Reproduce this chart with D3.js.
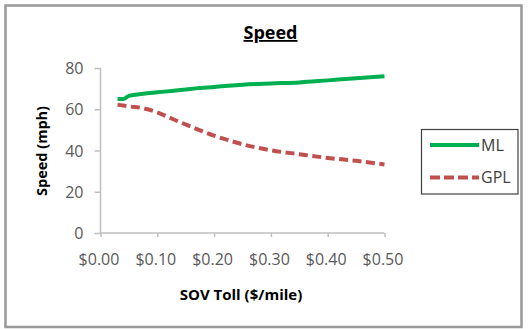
<!DOCTYPE html>
<html>
<head>
<meta charset="utf-8">
<script src="https://cdn.jsdelivr.net/npm/d3@7"></script>
<style>
  html, body { margin: 0; padding: 0; background: #fff; }
  svg { display: block; }
  text { font-family: "Open Sans", "DejaVu Sans", sans-serif; }
</style>
</head>
<body>
<svg id="chart" width="529" height="329"></svg>
<script>
// Toll levels ($ per mile) and the resulting speeds on each facility
const tolls = [0.03, 0.04, 0.05, 0.075, 0.1, 0.125, 0.15, 0.175, 0.2, 0.225, 0.25, 0.3, 0.35, 0.4, 0.45, 0.5];
const mlSpeed = [65.0, 65.0, 66.5, 67.5, 68.2, 68.9, 69.6, 70.3, 70.8, 71.4, 71.9, 72.5, 73.0, 74.0, 75.0, 76.0];
const gplSpeed = [62.2, 61.8, 61.4, 60.5, 58.5, 55.5, 52.6, 49.8, 47.2, 45.0, 43.0, 40.1, 38.2, 36.4, 35.0, 33.2];

const xTicks = [0, 0.1, 0.2, 0.3, 0.4, 0.5];
const yTicks = [0, 20, 40, 60, 80];

const seriesNames = ["ML", "GPL"];
const seriesColors = ["#00B050", "#C0504D"];

const svg = d3.select("#chart");

// chart frame
svg.append("rect")
  .attr("x", 5.5).attr("y", 5.5)
  .attr("width", 516).attr("height", 321.5)
  .attr("fill", "#fff")
  .attr("stroke", "#999").attr("stroke-width", 2.5);

const x = d3.scaleLinear().domain([0, 0.5]).range([100.5, 384.5]);
const y = d3.scaleLinear().domain([0, 80]).range([233, 68]);

// title
svg.append("text")
  .attr("x", 270.5).attr("y", 39)
  .attr("text-anchor", "middle")
  .attr("font-size", 18).attr("font-weight", "bold")
  .attr("text-decoration", "underline")
  .attr("fill", "#000")
  .text("Speed");

// axes
const xAxis = d3.axisBottom(x).tickValues(xTicks).tickSize(4)
  .tickFormat(d => "$" + d3.format(".2f")(d));
const yAxis = d3.axisLeft(y).tickValues(yTicks).tickSize(6);

const gx = svg.append("g").attr("transform", `translate(0,${y(0)})`).call(xAxis);
const gy = svg.append("g").attr("transform", `translate(${x(0)},0)`).call(yAxis);

[gx, gy].forEach(g => {
  g.select(".domain").attr("stroke", "#bfbfbf").attr("stroke-width", 1.5);
  g.selectAll(".tick line").attr("stroke", "#bfbfbf").attr("stroke-width", 1.5);
  g.selectAll(".tick text")
    .attr("fill", "#595959")
    .attr("font-size", 16)
    .style("font-family", "'Open Sans', sans-serif");
});
gx.select(".domain").attr("d", `M${x(0)},0H${x(0.5)}`);
gx.selectAll(".tick text").attr("dy", "0.71em").attr("y", 21).attr("dx", -2);
gy.select(".domain").attr("d", `M0,${y(80)}V${y(0)}`);
gy.selectAll(".tick text").attr("x", -17).attr("dy", "0.35em");

// axis titles
svg.append("text")
  .attr("x", 241).attr("y", 300)
  .attr("text-anchor", "middle")
  .attr("font-size", 15).attr("font-weight", "bold")
  .attr("fill", "#000")
  .text("SOV Toll ($/mile)");

svg.append("text")
  .attr("transform", "translate(47,151) rotate(-90)")
  .attr("text-anchor", "middle")
  .attr("font-size", 14.5).attr("font-weight", "bold")
  .attr("fill", "#000")
  .text("Speed (mph)");

// series lines
const line = d3.line()
  .x(d => x(d[0]))
  .y(d => y(d[1]))
  .curve(d3.curveMonotoneX);

const series = [
  { name: seriesNames[0], color: seriesColors[0], values: mlSpeed, dash: null },
  { name: seriesNames[1], color: seriesColors[1], values: gplSpeed, dash: "9,4.5" }
];

series.forEach(s => {
  svg.append("path")
    .datum(tolls.map((t, i) => [t, s.values[i]]))
    .attr("d", line)
    .attr("fill", "none")
    .attr("stroke", s.color)
    .attr("stroke-width", 4)
    .attr("stroke-dasharray", s.dash);
});

// legend
const lg = svg.append("g");
lg.append("rect")
  .attr("x", 421.5).attr("y", 129.5)
  .attr("width", 96.5).attr("height", 64.5)
  .attr("fill", "#fff")
  .attr("stroke", "#404040").attr("stroke-width", 1.2);

series.forEach((s, i) => {
  const ly = 145 + i * 32.5;
  lg.append("line")
    .attr("x1", 430).attr("x2", 479)
    .attr("y1", ly).attr("y2", ly)
    .attr("stroke", s.color)
    .attr("stroke-width", 4)
    .attr("stroke-dasharray", s.dash ? "10,4" : null);
  lg.append("text")
    .attr("x", 481).attr("y", ly)
    .attr("dy", "0.35em")
    .attr("font-size", 16)
    .attr("fill", "#404040")
    .text(s.name);
});
</script>
</body>
</html>
